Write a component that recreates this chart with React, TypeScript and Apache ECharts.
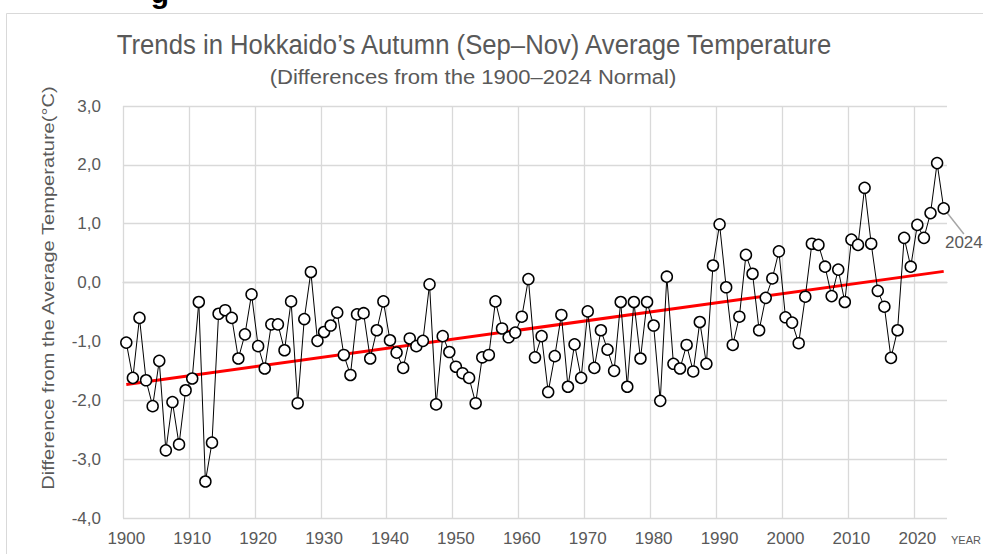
import React, { useEffect, useRef } from "react";
import * as echarts from "echarts";

// ---------- data ----------
const startYear = 1900;
const years: string[] = Array.from({ length: 125 }, (_, i) => String(startYear + i));

// Autumn (Sep–Nov) temperature anomaly, °C, 1900..2024
const anomalies: number[] = [
  -1.02, -1.62, -0.6, -1.66, -2.1, -1.33, -2.85, -2.03, -2.75, -1.83,
  -1.63, -0.33, -3.38, -2.72, -0.53, -0.47, -0.6, -1.29, -0.88, -0.2,
  -1.08, -1.46, -0.71, -0.71, -1.15, -0.32, -2.05, -0.62, 0.18, -0.99,
  -0.84, -0.73, -0.51, -1.23, -1.57, -0.54, -0.52, -1.29, -0.81, -0.32,
  -0.98, -1.19, -1.45, -0.95, -1.08, -0.99, -0.03, -2.07, -0.91, -1.18,
  -1.43, -1.54, -1.62, -2.05, -1.27, -1.23, -0.32, -0.78, -0.93, -0.85,
  -0.58, 0.06, -1.27, -0.91, -1.86, -1.25, -0.55, -1.77, -1.05, -1.62,
  -0.49, -1.45, -0.81, -1.14, -1.5, -0.33, -1.77, -0.33, -1.29, -0.33,
  -0.73, -2.01, 0.1, -1.38, -1.46, -1.06, -1.51, -0.67, -1.38, 0.29,
  0.99, -0.08, -1.06, -0.58, 0.47, 0.15, -0.81, -0.26, 0.07, 0.53,
  -0.59, -0.68, -1.03, -0.24, 0.66, 0.64, 0.27, -0.23, 0.22, -0.33,
  0.73, 0.64, 1.61, 0.66, -0.14, -0.41, -1.28, -0.81, 0.76, 0.27,
  0.98, 0.76, 1.18, 2.03, 1.26,
];

// linear trend line end points
const trendYears: string[] = ["1900", "2024"];
const trendValues: number[] = [-1.73, 0.19];

const titleText = "Trends in Hokkaido’s Autumn (Sep–Nov) Average Temperature";
const subtitleText = "(Differences from the 1900–2024 Normal)";
const yAxisTitle = "Difference from the Average Temperature(°C)";
const xAxisUnit = "YEAR";
const lastLabel = "2024";

const FONT = '"Liberation Sans", Arial, sans-serif';
const GRAY = "#595959";
const GRID = "#d9d9d9";

function fitScale(text: string, font: string, target: number): number {
  const ctx = document.createElement("canvas").getContext("2d");
  if (!ctx) return 1;
  ctx.font = font;
  const w = ctx.measureText(text).width;
  return w > 0 ? target / w : 1;
}

export default function App() {
  const ref = useRef<HTMLDivElement>(null);

  useEffect(() => {
    if (!ref.current) return;
    const chart = echarts.init(ref.current, undefined, { renderer: "svg" });

    const titleSize = 28;
    const subSize = 21;
    const yTitleSize = 17;
    const titleScale = fitScale(titleText, `${titleSize}px ${FONT}`, 718);
    const subScale = fitScale(subtitleText, `${subSize}px ${FONT}`, 407);
    const yTitleScale = fitScale(yAxisTitle, `${yTitleSize}px ${FONT}`, 405);

    const lastIdx = anomalies.length - 1;

    chart.setOption({
      animation: false,
      backgroundColor: "#ffffff",
      grid: { left: 123, right: 36, top: 106, bottom: 36 },
      xAxis: {
        type: "category",
        data: years,
        boundaryGap: true,
        axisLine: { show: true, lineStyle: { color: GRID, width: 1.3 } },
        axisTick: { show: false },
        axisLabel: {
          interval: 9,
          color: GRAY,
          fontSize: 17,
          fontFamily: FONT,
          margin: 12,
        },
        splitLine: {
          show: true,
          interval: 9,
          showMaxLine: false,
          lineStyle: { color: GRID, width: 1.3 },
        },
      },
      yAxis: {
        type: "value",
        min: -4,
        max: 3,
        interval: 1,
        axisLine: { show: false },
        axisTick: { show: false },
        axisLabel: {
          color: GRAY,
          fontSize: 17,
          fontFamily: FONT,
          margin: 22,
          formatter: (v: number) => v.toFixed(1).replace(".", ","),
        },
        splitLine: { lineStyle: { color: GRID, width: 1.3 } },
      },
      series: [
        {
          type: "line",
          data: trendYears.map((y, i) => [y, trendValues[i]]),
          symbol: "none",
          lineStyle: { color: "#ff0000", width: 3 },
          z: 2,
          silent: true,
        },
        {
          type: "line",
          data: anomalies.map((v, i) =>
            i === lastIdx
              ? {
                  value: v,
                  label: {
                    show: true,
                    formatter: lastLabel,
                    position: "right",
                    color: GRAY,
                    fontSize: 17,
                    fontFamily: FONT,
                  },
                  labelLine: {
                    show: true,
                    lineStyle: { color: "#a6a6a6", width: 1.5 },
                  },
                }
              : v
          ),
          labelLayout: (p: any) =>
            p.dataIndex === lastIdx ? { dx: -10, dy: 34 } : {},
          symbol: "circle",
          symbolSize: 11,
          showAllSymbol: true,
          itemStyle: { color: "#ffffff", borderColor: "#000000", borderWidth: 1.5 },
          lineStyle: { color: "#000000", width: 1 },
          label: { show: false },
          z: 3,
        },
      ],
      graphic: [
        {
          type: "rect",
          shape: { x: 6.5, y: 13.5, width: 1000, height: 600 },
          style: { fill: "none", stroke: GRID, lineWidth: 1 },
          silent: true,
        },
        {
          type: "text",
          x: 160,
          y: -8,
          style: {
            text: "g",
            font: `bold 30px ${FONT}`,
            fill: "#000000",
            align: "center",
            verticalAlign: "middle",
          },
        },
        {
          type: "text",
          x: 474,
          y: 45,
          scaleX: titleScale,
          style: {
            text: titleText,
            font: `${titleSize}px ${FONT}`,
            fill: GRAY,
            align: "center",
            verticalAlign: "middle",
          },
        },
        {
          type: "text",
          x: 473,
          y: 77,
          scaleX: subScale,
          style: {
            text: subtitleText,
            font: `${subSize}px ${FONT}`,
            fill: GRAY,
            align: "center",
            verticalAlign: "middle",
          },
        },
        {
          type: "text",
          x: 48,
          y: 288,
          rotation: Math.PI / 2,
          scaleX: yTitleScale,
          style: {
            text: yAxisTitle,
            font: `${yTitleSize}px ${FONT}`,
            fill: GRAY,
            align: "center",
            verticalAlign: "middle",
          },
        },
        {
          type: "text",
          x: 951,
          y: 540,
          style: {
            text: xAxisUnit,
            font: `11px ${FONT}`,
            fill: GRAY,
            align: "left",
            verticalAlign: "middle",
          },
        },
      ],
    });

    return () => chart.dispose();
  }, []);

  return (
    <div
      ref={ref}
      style={{ position: "absolute", left: 0, top: 0, width: 983, height: 554 }}
    />
  );
}
